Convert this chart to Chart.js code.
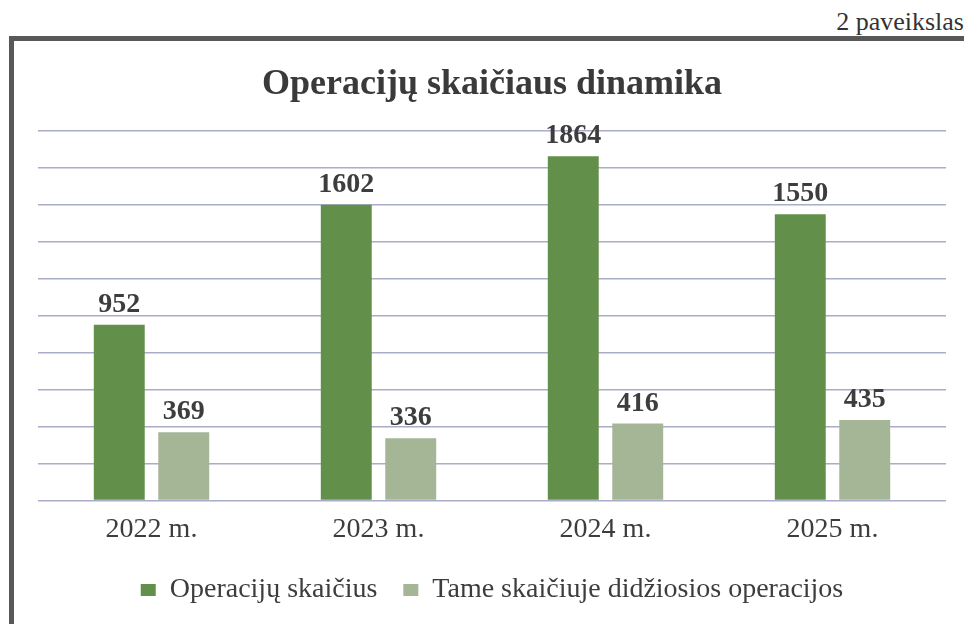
<!DOCTYPE html>
<html lang="lt">
<head>
<meta charset="utf-8">
<title>Operacijų skaičiaus dinamika</title>
<script src="https://cdn.jsdelivr.net/npm/chart.js@4/dist/chart.umd.min.js"></script>
<style>
    html, body { margin: 0; padding: 0; background: #fff; }
    body { width: 964px; height: 624px; position: relative; overflow: hidden; }
    /* figure caption above the frame */
    .caption {
        position: absolute; right: 0; top: 7px;
        font: 26px "Liberation Serif", "Times New Roman", serif;
        color: #333;
    }
    /* scanned frame: only top and left edges are visible */
    .frame {
        position: absolute; left: 9px; top: 36px;
        width: 980px; height: 620px;
        border-top: 5px solid #585858;
        border-left: 5px solid #585858;
    }
    #chartWrap { position: absolute; left: 0; top: 0; width: 964px; height: 624px; }
</style>
</head>
<body>
<div class="caption">2 paveikslas</div>
<div class="frame"></div>
<div id="chartWrap"><canvas id="opChart"></canvas></div>

<script>
/* ── Data ── */
const years = ['2022 m.', '2023 m.', '2024 m.', '2025 m.'];
const totalOps = [952, 1602, 1864, 1550];
const majorOps = [369, 336, 416, 435];
const seriesNames = ['Operacijų skaičius', 'Tame skaičiuje didžiosios operacijos'];
const yTicks = [0, 200, 400, 600, 800, 1000, 1200, 1400, 1600, 1800, 2000];

const SERIF = "'Liberation Serif', 'Times New Roman', serif";
const TEXT = '#3d3d3d';
const GRID = 'rgba(140,146,180,0.75)';

// values above bars (no datalabels plugin available offline)
const valueLabels = {
    id: 'valueLabels',
    afterDatasetsDraw(chart) {
        const ctx = chart.ctx;
        ctx.save();
        ctx.font = 'bold 28px ' + SERIF;
        ctx.fillStyle = TEXT;
        ctx.textAlign = 'center';
        ctx.textBaseline = 'alphabetic';
        chart.data.datasets.forEach((ds, di) => {
            chart.getDatasetMeta(di).data.forEach((bar, i) => {
                ctx.fillText(String(ds.data[i]), bar.x, bar.y - 13);
            });
        });
        ctx.restore();
    }
};

new Chart(document.getElementById('opChart'), {
    type: 'bar',
    data: {
        labels: years,
        datasets: [{
            label: seriesNames[0],
            data: totalOps,
            backgroundColor: '#62904a'
        }, {
            label: seriesNames[1],
            data: majorOps,
            backgroundColor: '#a5b697'
        }]
    },
    options: {
        responsive: true,
        maintainAspectRatio: false,
        animation: false,
        datasets: {
            bar: { categoryPercentage: 0.568, barPercentage: 0.79 }
        },
        layout: { padding: { top: 63, left: 38, right: 18, bottom: 10 } },
        plugins: {
            title: {
                display: true,
                text: 'Operacijų skaičiaus dinamika',
                color: '#3a3a3a',
                font: { family: SERIF, size: 36, weight: 'bold' },
                padding: { top: 0, bottom: 25 }
            },
            legend: {
                position: 'bottom',
                labels: {
                    color: TEXT,
                    font: { family: SERIF, size: 28 },
                    boxWidth: 15,
                    boxHeight: 12,
                    padding: 26
                }
            },
            tooltip: { enabled: false }
        },
        scales: {
            x: {
                grid: { display: false },
                border: { display: false },
                ticks: { color: TEXT, font: { family: SERIF, size: 28 }, padding: 4 }
            },
            y: {
                min: yTicks[0],
                max: yTicks[yTicks.length - 1],
                afterBuildTicks: axis => { axis.ticks = yTicks.map(v => ({ value: v })); },
                ticks: { display: false },
                border: { display: false },
                grid: { color: GRID, lineWidth: 1.5, drawTicks: false }
            }
        }
    },
    plugins: [valueLabels]
});
</script>
</body>
</html>
